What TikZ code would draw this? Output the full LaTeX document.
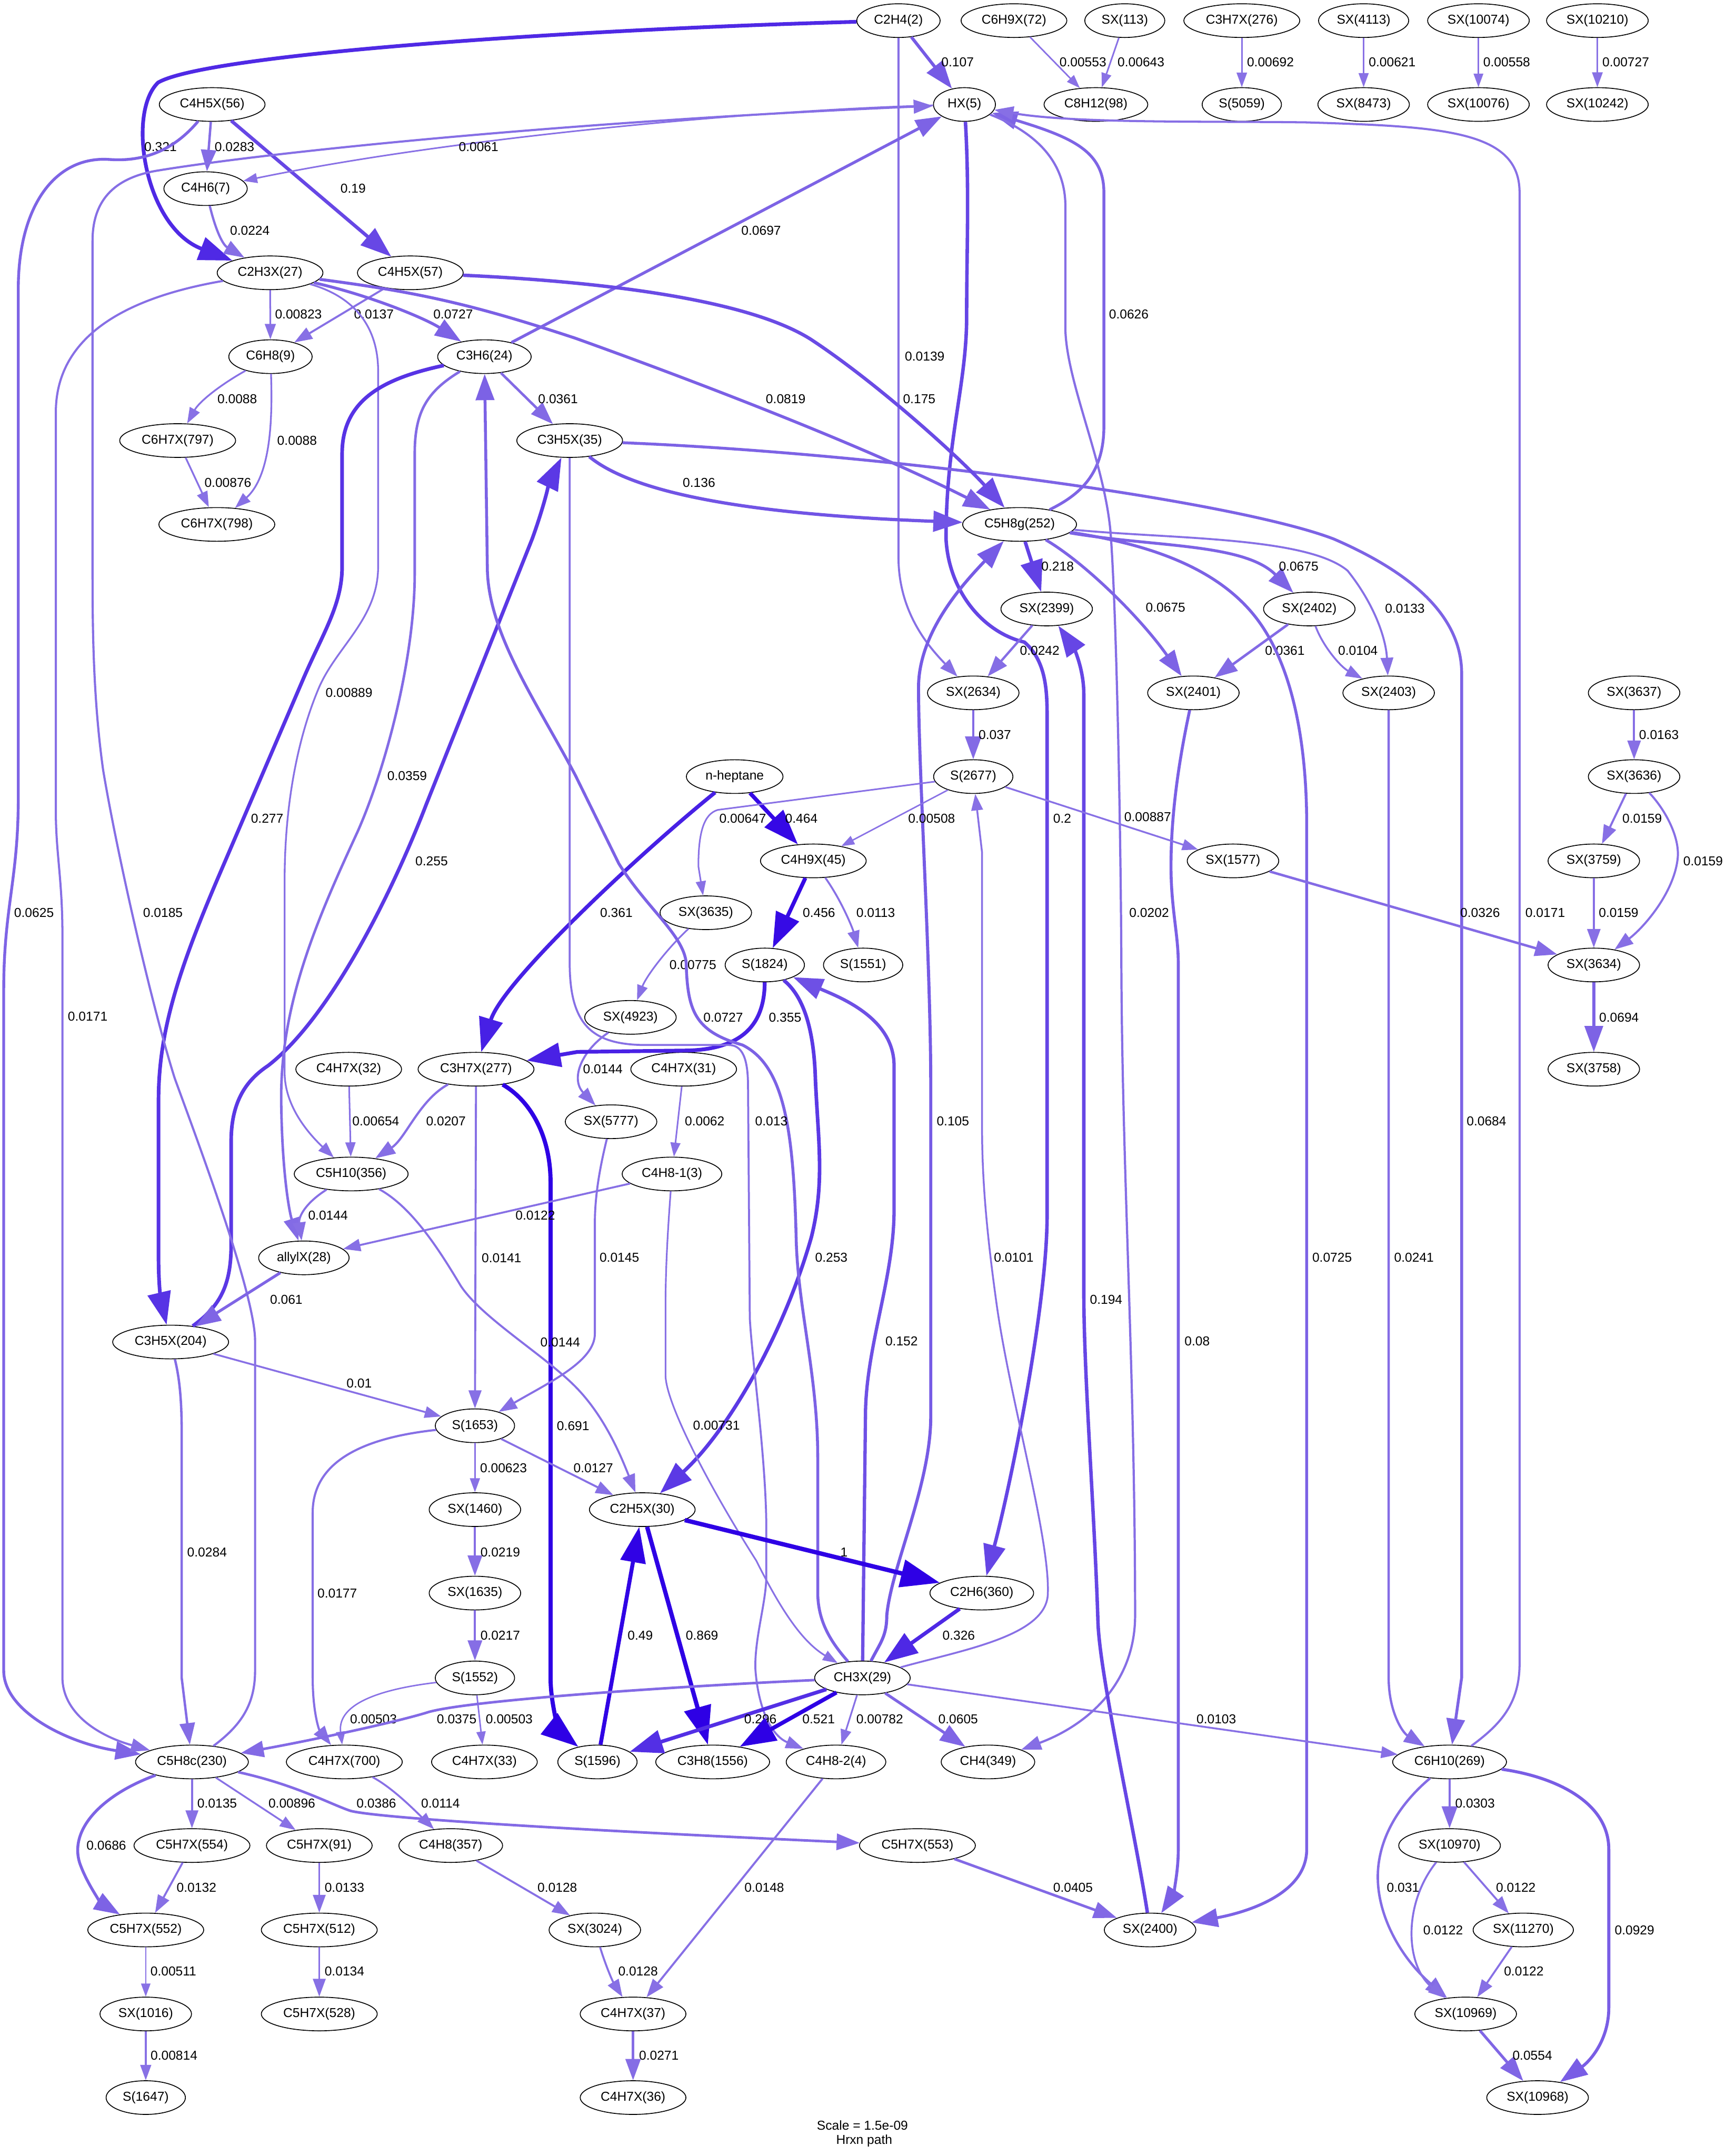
\documentclass[tikz,border=0pt]{standalone}
\usepackage{fontspec}
\setmainfont{Liberation Sans}
\usepackage{tikz}
\usetikzlibrary{arrows.meta}
\usetikzlibrary{positioning}
\usetikzlibrary{shapes.geometric}

\tikzset{
	sp/.style={ellipse, draw, line width=0.5pt, inner xsep=2.9pt, inner ysep=1pt, minimum height=0.686cm, font=\fontsize{7.5}{9}\selectfont},
	lbl/.style={anchor=west, inner sep=0pt, font=\fontsize{7.5}{9}\selectfont},
	fl/.code={%
		\pgfmathsetmacro\flsat{min(1,#1+0.5)}%
		\pgfmathsetmacro\flr{0.9*(1-0.8*\flsat)}%
		\pgfmathsetmacro\flg{0.9*(1-\flsat)}%
		\pgfmathsetmacro\flw{0.42*(2+1.7384*ln(200*#1)/2.302585)}%
		\definecolor{flcol}{rgb}{\flr,\flg,0.9}%
		\pgfkeysalso{draw=flcol, line width=\flw pt, -{Triangle[length=0pt 9,width=0pt 6.3]}}%
	}
}

\begin{document}
\begin{tikzpicture}[x=0.028cm, y=-0.028cm]
	\useasboundingbox (0,0) rectangle (1255,1568);
	% species
	\node[sp] (c2h4) at (653.4,15) {C2H4(2)};
	\node[sp] (c6h9x72) at (737.4,15) {C6H9X(72)};
	\node[sp] (sx113) at (818,15) {SX(113)};
	\node[sp] (c3h7x276) at (903.1,15) {C3H7X(276)};
	\node[sp] (sx4113) at (991.7,15) {SX(4113)};
	\node[sp] (sx10074) at (1075.2,15) {SX(10074)};
	\node[sp] (sx10210) at (1161.7,15) {SX(10210)};
	\node[sp] (c4h5x56) at (154.3,76) {C4H5X(56)};
	\node[sp] (hx) at (701.4,76) {HX(5)};
	\node[sp] (c8h12) at (797,76) {C8H12(98)};
	\node[sp] (s5059) at (903.1,76) {S(5059)};
	\node[sp] (sx8473) at (991.7,76) {SX(8473)};
	\node[sp] (sx10076) at (1075.2,76) {SX(10076)};
	\node[sp] (sx10242) at (1161.7,76) {SX(10242)};
	\node[sp] (c4h6) at (149.5,137.2) {C4H6(7)};
	\node[sp] (c2h3x) at (196.4,198.4) {C2H3X(27)};
	\node[sp] (c4h5x57) at (298.4,198.4) {C4H5X(57)};
	\node[sp] (c6h8) at (196.7,259.4) {C6H8(9)};
	\node[sp] (c3h6) at (352.3,259.4) {C3H6(24)};
	\node[sp] (c6h7x797) at (129.2,320.4) {C6H7X(797)};
	\node[sp] (c3h5x35) at (414.3,320.4) {C3H5X(35)};
	\node[sp] (c6h7x798) at (157.7,381.4) {C6H7X(798)};
	\node[sp] (c5h8g) at (741.5,381.4) {C5H8g(252)};
	\node[sp] (sx2399) at (761.2,442.9) {SX(2399)};
	\node[sp] (sx2402) at (952.2,442.9) {SX(2402)};
	\node[sp] (sx2634) at (707.8,503.9) {SX(2634)};
	\node[sp] (sx2401) at (867.9,503.9) {SX(2401)};
	\node[sp] (sx2403) at (1009.9,503.9) {SX(2403)};
	\node[sp] (sx3637) at (1188.4,503.9) {SX(3637)};
	\node[sp] (heptane) at (534.3,564.8) {n-heptane};
	\node[sp] (s2677) at (707.8,564.8) {S(2677)};
	\node[sp] (sx3636) at (1188.4,564.8) {SX(3636)};
	\node[sp] (c4h9x) at (591.5,626.1) {C4H9X(45)};
	\node[sp] (sx1577) at (896.7,626.1) {SX(1577)};
	\node[sp] (sx3759) at (1159.1,626.1) {SX(3759)};
	\node[sp] (sx3635) at (513.3,663.8) {SX(3635)};
	\node[sp] (s1824) at (556.2,701.8) {S(1824)};
	\node[sp] (s1551) at (627.7,701.8) {S(1551)};
	\node[sp] (sx3634) at (1159.1,701.8) {SX(3634)};
	\node[sp] (sx4923) at (458.5,739.9) {SX(4923)};
	\node[sp] (c4h7x32) at (253.6,777.6) {C4H7X(32)};
	\node[sp] (c3h7x277) at (346.2,777.6) {C3H7X(277)};
	\node[sp] (c4h7x31) at (497.2,777.6) {C4H7X(31)};
	\node[sp] (sx3758) at (1159.1,777.6) {SX(3758)};
	\node[sp] (sx5777) at (444.4,815.8) {SX(5777)};
	\node[sp] (c5h10) at (255.4,853.8) {C5H10(356)};
	\node[sp] (c4h81) at (488.7,853.8) {C4H8-1(3)};
	\node[sp] (allylx) at (221,914.8) {allylX(28)};
	\node[sp] (c3h5x204) at (124.1,976) {C3H5X(204)};
	\node[sp] (s1653) at (345.4,1036.9) {S(1653)};
	\node[sp] (sx1460) at (345.4,1097.9) {SX(1460)};
	\node[sp] (c2h5x) at (467.1,1097.9) {C2H5X(30)};
	\node[sp] (sx1635) at (345.4,1158.6) {SX(1635)};
	\node[sp] (c2h6) at (714,1158.6) {C2H6(360)};
	\node[sp] (s1552) at (345.4,1220.3) {S(1552)};
	\node[sp] (ch3x) at (627.2,1220.3) {CH3X(29)};
	\node[sp] (c5h8c) at (139.6,1281.4) {C5H8c(230)};
	\node[sp] (c4h7x700) at (250.4,1281.4) {C4H7X(700)};
	\node[sp] (c4h7x33) at (352.3,1281.4) {C4H7X(33)};
	\node[sp] (s1596) at (434.5,1281.4) {S(1596)};
	\node[sp] (c3h8) at (518.3,1281.4) {C3H8(1556)};
	\node[sp] (c4h82) at (608,1281.4) {C4H8-2(4)};
	\node[sp] (ch4) at (718.5,1281.4) {CH4(349)};
	\node[sp] (c6h10) at (1054.2,1281.4) {C6H10(269)};
	\node[sp] (c5h7x554) at (139.6,1342.2) {C5H7X(554)};
	\node[sp] (c5h7x91) at (232.2,1342.2) {C5H7X(91)};
	\node[sp] (c4h8) at (327.8,1342.2) {C4H8(357)};
	\node[sp] (c5h7x553) at (667.2,1342.2) {C5H7X(553)};
	\node[sp] (sx10970) at (1054.2,1342.2) {SX(10970)};
	\node[sp] (c5h7x552) at (106,1403.6) {C5H7X(552)};
	\node[sp] (c5h7x512) at (232.2,1403.6) {C5H7X(512)};
	\node[sp] (sx3024) at (432.6,1403.6) {SX(3024)};
	\node[sp] (sx2400) at (836.4,1403.6) {SX(2400)};
	\node[sp] (sx11270) at (1107.8,1403.6) {SX(11270)};
	\node[sp] (sx1016) at (106,1464.7) {SX(1016)};
	\node[sp] (c5h7x528) at (232.2,1464.7) {C5H7X(528)};
	\node[sp] (c4h7x37) at (460.4,1464.7) {C4H7X(37)};
	\node[sp] (sx10969) at (1065.9,1464.7) {SX(10969)};
	\node[sp] (s1647) at (106,1525.5) {S(1647)};
	\node[sp] (c4h7x36) at (460.4,1525.5) {C4H7X(36)};
	\node[sp] (sx10968) at (1118.2,1525.5) {SX(10968)};
	\node[inner sep=0pt, font=\fontsize{7.5}{9}\selectfont] (scale) at (627.2,1545.8) {Scale = 1.5e-09};
	\node[inner sep=0pt, font=\fontsize{7.5}{9}\selectfont] (hrxn) at (628.5,1556.8) {Hrxn path};
	% fluxes, top
	\draw[fl=0.321] (c2h4) .. controls (400,22) and (150,40) .. (115,60) .. controls (92,82) and (105,165) .. (c2h3x.north west) node[lbl] at (103.6,106.7) {0.321};
	\draw[fl=0.107] (c2h4) -- (hx) node[lbl] at (683.5,45.2) {0.107};
	\draw[fl=0.0139] (c2h4) -- (653.4,405) .. controls (653.4,445) and (675,470) .. (sx2634) node[lbl] at (657.4,259.2) {0.0139};
	\draw[fl=0.00553] (c6h9x72) -- (c8h12) node[lbl] at (770,45.2) {0.00553};
	\draw[fl=0.00643] (sx113) -- (c8h12) node[lbl] at (812.2,45.2) {0.00643};
	\draw[fl=0.00692] (c3h7x276) -- (s5059) node[lbl] at (906.3,45.2) {0.00692};
	\draw[fl=0.00621] (sx4113) -- (sx8473) node[lbl] at (994.9,45.2) {0.00621};
	\draw[fl=0.00558] (sx10074) -- (sx10076) node[lbl] at (1078.2,45.2) {0.00558};
	\draw[fl=0.00727] (sx10210) -- (sx10242) node[lbl] at (1164.7,45.2) {0.00727};
	\draw[fl=0.0283] (c4h5x56) -- (c4h6) node[lbl] at (155.3,106.7) {0.0283};
	\draw[fl=0.19] (c4h5x56) -- (c4h5x57) node[lbl] at (246.4,137) {0.19};
	\draw[fl=0.0625] (c4h5x56) .. controls (130,105) and (110,118) .. (80,116) .. controls (40,113) and (13.3,150) .. (13.3,210) -- (13.3,580) .. controls (13.3,640) and (2.7,660) .. (2.7,720) -- (2.7,1215) .. controls (2.7,1245) and (50,1268) .. (c5h8c) node[lbl] at (9.3,663.9) {0.0625};
	\draw[fl=0.0061] (hx) .. controls (550,80) and (330,100) .. (c4h6) node[lbl] at (333.1,106.7) {0.0061};
	\draw[fl=0.0224] (c4h6) .. controls (157,168) and (162,178) .. (c2h3x) node[lbl] at (166.5,167.5) {0.0224};
	\draw[fl=0.00823] (c2h3x) -- (c6h8) node[lbl] at (199.4,228.7) {0.00823};
	\draw[fl=0.0137] (c4h5x57) -- (c6h8) node[lbl] at (256.8,228.7) {0.0137};
	\draw[fl=0.0727] (c2h3x) .. controls (270,215) and (310,232) .. (c3h6) node[lbl] at (314.1,228.7) {0.0727};
	\draw[fl=0.0819] (c2h3x) .. controls (300,212) and (340,220) .. (418.5,246) .. controls (480,268) and (620,320) .. (c5h8g) node[lbl] at (555.9,290) {0.0819};
	\draw[fl=0.0171] (c2h3x) .. controls (100,215) and (40.6,240) .. (40.6,300) -- (40.6,590) .. controls (40.6,620) and (45.4,640) .. (45.4,680) -- (45.4,1220) .. controls (45.4,1245) and (70,1262) .. (c5h8c) node[lbl] at (48.6,739.3) {0.0171};
	\draw[fl=0.00889] (c2h3x) .. controls (255,215) and (275,235) .. (275,270) -- (275,412) .. controls (275,450) and (245,470) .. (232,500) .. controls (215,540) and (207,590) .. (207,640) -- (207,780) .. controls (207,805) and (225,825) .. (c5h10) node[lbl] at (236.2,503.6) {0.00889};
	\draw[fl=0.277] (c3h6) .. controls (280,275) and (248.8,290) .. (248.8,330) -- (248.8,412) .. controls (248.8,440) and (235,460) .. (220,495) -- (160,635) .. controls (130,705) and (115.3,750) .. (115.3,800) -- (115.3,915) .. controls (115.3,940) and (118,950) .. (c3h5x204) node[lbl] at (181.2,595.1) {0.277};
	\draw[fl=0.255] (c3h5x204) .. controls (160,950) and (168.1,935) .. (168.1,905) -- (168.1,830) .. controls (168.1,800) and (180,785) .. (195,775) .. controls (240,740) and (285,650) .. (310,585) -- (387,392) .. controls (395,370) and (400,350) .. (c3h5x35) node[lbl] at (300.8,626.1) {0.255};
	\draw[fl=0.0359] (c3h6) .. controls (310,285) and (301.6,300) .. (301.6,330) -- (301.6,417) .. controls (301.6,480) and (280,560) .. (260,605) .. controls (230,670) and (204,730) .. (204.5,800) .. controls (205,850) and (210,880) .. (allylx) node[lbl] at (280.8,564.4) {0.0359};
	\draw[fl=0.0361] (c3h6) -- (c3h5x35) node[lbl] at (390.5,290) {0.0361};
	\draw[fl=0.0697] (c3h6) -- (hx) node[lbl] at (538.1,167.5) {0.0697};
	\draw[fl=0.0185] (c5h8c) .. controls (175,1255) and (185.5,1240) .. (185.5,1215) -- (185.5,975) .. controls (185.5,940) and (140,820) .. (127,784) .. controls (110,730) and (85,620) .. (75,560) .. controls (68,510) and (67.3,460) .. (67.3,420) -- (67.3,175) .. controls (67.3,140) and (90,128) .. (115,124) .. controls (200,110) and (420,88) .. (hx) node[lbl] at (103.3,663.9) {0.0185};
	\draw[fl=0.0626] (c5h8g) .. controls (785,360) and (802.8,345) .. (802.8,310) -- (802.8,140) .. controls (802.8,110) and (780,100) .. (hx) node[lbl] at (805.5,228.7) {0.0626};
	\draw[fl=0.0171] (c6h10) .. controls (1090,1255) and (1105.1,1240) .. (1105.1,1210) -- (1105.1,140) .. controls (1105.1,95) and (1050,92) .. (950,89) .. controls (880,88) and (780,90) .. (hx) node[lbl] at (1108.6,663.9) {0.0171};
	\draw[fl=0.0202] (hx) .. controls (750,95) and (774.8,115) .. (774.8,150) -- (774.8,240) .. controls (776,280) and (805,340) .. (808,392) .. controls (812,450) and (815,600) .. (815.5,700) .. controls (816,850) and (825.5,1000) .. (825.5,1175) .. controls (825.5,1225) and (790,1255) .. (ch4) node[lbl] at (820.5,663.9) {0.0202};
	\draw[fl=0.2] (hx) .. controls (705,140) and (703,180) .. (703,230) .. controls (703,280) and (688,320) .. (688,392) .. controls (690,430) and (715,460) .. (745,467) .. controls (760,480) and (761.5,500) .. (761.5,520) -- (761.5,884) .. controls (761.5,950) and (735,1080) .. (c2h6) node[lbl] at (764.7,595.1) {0.2};
	% fluxes, C5H8g
	\draw[fl=0.0684] (c3h5x35) .. controls (650,330) and (900,365) .. (970,392) .. controls (1030,418) and (1063,450) .. (1063,490) -- (1063,1220) -- (c6h10) node[lbl] at (1065.6,815.5) {0.0684};
	\draw[fl=0.136] (c3h5x35) .. controls (460,358) and (540,374) .. (c5h8g) node[lbl] at (495.4,351.1) {0.136};
	\draw[fl=0.175] (c4h5x57) .. controls (420,204) and (540,215) .. (590,247) .. controls (640,280) and (700,335) .. (c5h8g) node[lbl] at (655.5,290) {0.175};
	\draw[fl=0.105] (ch3x) .. controls (640,1195) and (644.9,1190) .. (644.9,1175) .. controls (648,1140) and (676.9,1080) .. (676.9,1030) -- (676.9,790) .. controls (676.9,700) and (668,560) .. (668,500) .. controls (668,460) and (700,425) .. (c5h8g) node[lbl] at (680.1,815.5) {0.105};
	\draw[fl=0.218] (c5h8g) -- (sx2399) node[lbl] at (756.1,411.9) {0.218};
	\draw[fl=0.0242] (sx2399) -- (sx2634) node[lbl] at (740.9,473.1) {0.0242};
	\draw[fl=0.037] (sx2634) -- (s2677) node[lbl] at (710.8,534.4) {0.037};
	\draw[fl=0.0675] (c5h8g) .. controls (840,398) and (905,395) .. (sx2402) node[lbl] at (929,411.9) {0.0675};
	\draw[fl=0.0675] (c5h8g) .. controls (790,410) and (830,450) .. (sx2401) node[lbl] at (832.2,441.9) {0.0675};
	\draw[fl=0.0133] (c5h8g) .. controls (850,392) and (950,390) .. (980,415) .. controls (1000,440) and (1008,465) .. (sx2403) node[lbl] at (1006.6,442.4) {0.0133};
	\draw[fl=0.0361] (sx2402) -- (sx2401) node[lbl] at (919.1,473.1) {0.0361};
	\draw[fl=0.0104] (sx2402) .. controls (962,470) and (975,485) .. (sx2403) node[lbl] at (972.5,473.1) {0.0104};
	\draw[fl=0.0725] (c5h8g) .. controls (830,395) and (880,410) .. (910,445) .. controls (940,480) and (950.3,540) .. (950.3,600) -- (950.3,1345) .. controls (950.3,1380) and (900,1392) .. (sx2400) node[lbl] at (953.3,914.5) {0.0725};
	\draw[fl=0.08] (sx2401) .. controls (858,550) and (851.6,590) .. (851.6,630) .. controls (851.6,660) and (856.9,680) .. (856.9,700) -- (856.9,1345) .. controls (856.9,1365) and (852,1380) .. (sx2400) node[lbl] at (860.4,975.5) {0.08};
	\draw[fl=0.0241] (sx2403) -- (1009.9,1220) .. controls (1009.9,1245) and (1020,1260) .. (c6h10) node[lbl] at (1013.1,914.5) {0.0241};
	\draw[fl=0.194] (sx2400) .. controls (825,1330) and (800,1220) .. (798.5,1180) .. controls (796,1100) and (788.2,1000) .. (788.2,940) -- (788.2,505) .. controls (788.2,485) and (780,470) .. (sx2399) node[lbl] at (791.4,945) {0.194};
	% fluxes, middle
	\draw[fl=0.361] (heptane) .. controls (460,625) and (365,715) .. (c3h7x277) node[lbl] at (435.1,663.9) {0.361};
	\draw[fl=0.464] (heptane) -- (c4h9x) node[lbl] at (569.6,595.1) {0.464};
	\draw[fl=0.00647] (s2677) -- (522,589) .. controls (512,592) and (507.9,605) .. (507.9,630) -- (sx3635) node[lbl] at (522.6,595.1) {0.00647};
	\draw[fl=0.00508] (s2677) -- (c4h9x) node[lbl] at (660,595.1) {0.00508};
	\draw[fl=0.00887] (s2677) -- (sx1577) node[lbl] at (817,594) {0.00887};
	\draw[fl=0.456] (c4h9x) -- (s1824) node[lbl] at (582.4,663.9) {0.456};
	\draw[fl=0.0113] (c4h9x) .. controls (612,655) and (620,675) .. (s1551) node[lbl] at (622.1,663.9) {0.0113};
	\draw[fl=0.00775] (sx3635) .. controls (485,690) and (470,710) .. (sx4923) node[lbl] at (486.3,701.8) {0.00775};
	\draw[fl=0.0144] (sx4923) .. controls (422,765) and (415,785) .. (sx5777) node[lbl] at (423.3,777.6) {0.0144};
	\draw[fl=0.355] (s1824) .. controls (556,745) and (540,763) .. (500,764) -- (420,765) -- (c3h7x277) node[lbl] at (557.8,739.9) {0.355};
	\draw[fl=0.253] (s1824) .. controls (585,725) and (592,750) .. (593,785) .. controls (595,830) and (600,860) .. (590,900) .. controls (570,970) and (530,1040) .. (c2h5x) node[lbl] at (591.5,914.5) {0.253};
	\draw[fl=0.0727] (ch3x) .. controls (605,1195) and (594.7,1180) .. (594.7,1158) -- (594.7,1060) .. controls (594.7,1000) and (580,950) .. (579,900) .. controls (577,820) and (570,775) .. (540,760) .. controls (505,750) and (500,735) .. (499,700) .. controls (497,680) and (470,660) .. (450,628) -- (418.5,564) .. controls (390,510) and (354.4,460) .. (354.4,412) -- (c3h6) node[lbl] at (510.5,739.9) {0.0727};
	\draw[fl=0.013] (c3h5x35) -- (414.3,700) .. controls (414.3,745) and (430,760) .. (470,760) -- (530,760) .. controls (540,760) and (544,770) .. (544,790) -- (545.3,958.8) .. controls (547,990) and (557,1060) .. (557.3,1110) -- (557.3,1146) .. controls (557.3,1165) and (549,1190) .. (549.3,1213) .. controls (551,1240) and (560,1262) .. (c4h82) node[lbl] at (548.5,815.5) {0.013};
	\draw[fl=0.152] (ch3x) -- (629.4,1030) .. controls (629.4,980) and (650.2,930) .. (650.2,880) -- (650.2,775) .. controls (650.2,740) and (610,725) .. (s1824) node[lbl] at (642.7,975.5) {0.152};
	\draw[fl=0.0101] (ch3x) .. controls (700,1200) and (760,1190) .. (762,1160) .. controls (764,1120) and (735,1020) .. (725,950) .. controls (718,900) and (714.2,860) .. (714.2,820) -- (714.2,620) -- (s2677) node[lbl] at (722.2,914.5) {0.0101};
	\draw[fl=0.691] (c3h7x277) .. controls (385,800) and (400.4,825) .. (400.4,860) -- (400.4,1220) .. controls (400.4,1245) and (410,1262) .. (s1596) node[lbl] at (403.5,1037) {0.691};
	\draw[fl=0.0207] (c3h7x277) .. controls (305,800) and (295,828) .. (c5h10) node[lbl] at (309.1,815.5) {0.0207};
	\draw[fl=0.0141] (c3h7x277) -- (s1653) node[lbl] at (349.6,914.8) {0.0141};
	\draw[fl=0.00654] (c4h7x32) -- (c5h10) node[lbl] at (255.7,815.5) {0.00654};
	\draw[fl=0.0062] (c4h7x31) -- (c4h81) node[lbl] at (497.5,815.5) {0.0062};
	\draw[fl=0.0145] (sx5777) .. controls (436,850) and (432.6,870) .. (432.6,890) -- (432.6,970) .. controls (432.6,990) and (400,1005) .. (s1653) node[lbl] at (435.3,914.5) {0.0145};
	\draw[fl=0.0122] (c4h81) -- (allylx) node[lbl] at (374.2,883.8) {0.0122};
	\draw[fl=0.00731] (c4h81) .. controls (486,890) and (484,920) .. (484,950) -- (484,1000) .. controls (484,1020) and (515,1080) .. (550,1135) .. controls (570,1175) and (585,1195) .. (ch3x) node[lbl] at (503.4,1036.7) {0.00731};
	\draw[fl=0.0144] (c5h10) .. controls (222,875) and (217,885) .. (allylx) node[lbl] at (223.4,883.8) {0.0144};
	\draw[fl=0.0144] (c5h10) .. controls (300,878) and (320,910) .. (335,935) .. controls (350,958) and (395,985) .. (418,1008) .. controls (440,1030) and (452,1060) .. (c2h5x) node[lbl] at (392.3,976) {0.0144};
	\draw[fl=0.061] (allylx) -- (c3h5x204) node[lbl] at (195.4,945.2) {0.061};
	\draw[fl=0.01] (c3h5x204) -- (s1653) node[lbl] at (251.4,1006.2) {0.01};
	\draw[fl=0.0284] (c3h5x204) .. controls (130,1000) and (132.1,1015) .. (132.1,1040) -- (132.1,1220) -- (c5h8c) node[lbl] at (135.3,1128.8) {0.0284};
	\draw[fl=0.00623] (s1653) -- (sx1460) node[lbl] at (348.6,1067.5) {0.00623};
	\draw[fl=0.0219] (sx1460) -- (sx1635) node[lbl] at (348.6,1128.8) {0.0219};
	\draw[fl=0.0217] (sx1635) -- (s1552) node[lbl] at (348.6,1189.5) {0.0217};
	\draw[fl=0.0127] (s1653) -- (c2h5x) node[lbl] at (416.4,1067.5) {0.0127};
	\draw[fl=0.0177] (s1653) .. controls (270,1045) and (227.4,1060) .. (227.4,1100) -- (227.4,1220) .. controls (227.4,1245) and (232,1258) .. (c4h7x700) node[lbl] at (230.1,1158.6) {0.0177};
	\draw[fl=1] (c2h5x) -- (c2h6) node[lbl] at (609.6,1128.8) {1};
	\draw[fl=0.326] (c2h6) -- (ch3x) node[lbl] at (684.1,1189.5) {0.326};
	\draw[fl=0.49] (s1596) -- (c2h5x) node[lbl] at (455,1189.5) {0.49};
	\draw[fl=0.869] (c2h5x) -- (c3h8) node[lbl] at (497.2,1189.5) {0.869};
	% fluxes, bottom
	\draw[fl=0.00503] (s1552) .. controls (280,1228) and (245,1238) .. (c4h7x700) node[lbl] at (254.1,1250.3) {0.00503};
	\draw[fl=0.00503] (s1552) -- (c4h7x33) node[lbl] at (352.8,1250.3) {0.00503};
	\draw[fl=0.0375] (ch3x) .. controls (500,1226) and (345,1236) .. (312,1245) .. controls (290,1252) and (230,1265) .. (c5h8c) node[lbl] at (316.8,1250.3) {0.0375};
	\draw[fl=0.296] (ch3x) -- (s1596) node[lbl] at (539.9,1250.3) {0.296};
	\draw[fl=0.521] (ch3x) -- (c3h8) node[lbl] at (582.1,1250.3) {0.521};
	\draw[fl=0.00782] (ch3x) -- (c4h82) node[lbl] at (622.2,1250.3) {0.00782};
	\draw[fl=0.0605] (ch3x) -- (ch4) node[lbl] at (681.4,1250.3) {0.0605};
	\draw[fl=0.0103] (ch3x) -- (c6h10) node[lbl] at (869.5,1250.3) {0.0103};
	\draw[fl=0.0135] (c5h8c) -- (c5h7x554) node[lbl] at (142.8,1311.7) {0.0135};
	\draw[fl=0.00896] (c5h8c) -- (c5h7x91) node[lbl] at (194.6,1311.7) {0.00896};
	\draw[fl=0.0386] (c5h8c) .. controls (215,1298) and (240,1312) .. (255,1317) .. controls (275,1322) and (400,1330) .. (c5h7x553) node[lbl] at (258.4,1311.7) {0.0386};
	\draw[fl=0.0686] (c5h8c) .. controls (75,1305) and (50,1330) .. (58,1355) .. controls (64,1372) and (75,1385) .. (c5h7x552) node[lbl] at (61.9,1342.2) {0.0686};
	\draw[fl=0.0132] (c5h7x554) -- (c5h7x552) node[lbl] at (127.8,1372.8) {0.0132};
	\draw[fl=0.0133] (c5h7x91) -- (c5h7x512) node[lbl] at (235.4,1372.8) {0.0133};
	\draw[fl=0.00511] (c5h7x552) -- (sx1016) node[lbl] at (108.9,1433.6) {0.00511};
	\draw[fl=0.0134] (c5h7x512) -- (c5h7x528) node[lbl] at (235.4,1433.6) {0.0134};
	\draw[fl=0.00814] (sx1016) -- (s1647) node[lbl] at (108.9,1495) {0.00814};
	\draw[fl=0.0114] (c4h7x700) .. controls (285,1300) and (300,1315) .. (c4h8) node[lbl] at (305.6,1311.7) {0.0114};
	\draw[fl=0.0128] (c4h8) -- (sx3024) node[lbl] at (390.2,1372.8) {0.0128};
	\draw[fl=0.0128] (sx3024) .. controls (440,1428) and (445,1440) .. (c4h7x37) node[lbl] at (448.9,1433.6) {0.0128};
	\draw[fl=0.0148] (c4h82) -- (c4h7x37) node[lbl] at (540.7,1372.8) {0.0148};
	\draw[fl=0.0271] (c4h7x37) -- (c4h7x36) node[lbl] at (463.9,1495) {0.0271};
	\draw[fl=0.0405] (c5h7x553) -- (sx2400) node[lbl] at (765,1372.8) {0.0405};
	\draw[fl=0.0303] (c6h10) -- (sx10970) node[lbl] at (1057.4,1311.7) {0.0303};
	\draw[fl=0.031] (c6h10) .. controls (1020,1310) and (1002,1335) .. (1002,1365) .. controls (1002,1395) and (1020,1425) .. (sx10969) node[lbl] at (1007.7,1372.8) {0.031};
	\draw[fl=0.0122] (sx10970) .. controls (1020,1385) and (1022,1430) .. (sx10969) node[lbl] at (1034.4,1403.6) {0.0122};
	\draw[fl=0.0122] (sx10970) -- (sx11270) node[lbl] at (1087.3,1372.8) {0.0122};
	\draw[fl=0.0122] (sx11270) -- (sx10969) node[lbl] at (1093.1,1433.6) {0.0122};
	\draw[fl=0.0554] (sx10969) -- (sx10968) node[lbl] at (1099,1495) {0.0554};
	\draw[fl=0.0929] (c6h10) .. controls (1130,1292) and (1170,1310) .. (1170,1345) -- (1170,1460) .. controls (1170,1485) and (1155,1500) .. (sx10968) node[lbl] at (1173.2,1403.6) {0.0929};
	% fluxes, right column
	\draw[fl=0.0163] (sx3637) -- (sx3636) node[lbl] at (1191.3,534.4) {0.0163};
	\draw[fl=0.0159] (sx3636) -- (sx3759) node[lbl] at (1179.1,595.1) {0.0159};
	\draw[fl=0.0159] (sx3636) .. controls (1212,590) and (1222,610) .. (1220,625) .. controls (1217,650) and (1195,675) .. (sx3634) node[lbl] at (1223.4,626.1) {0.0159};
	\draw[fl=0.0159] (sx3759) -- (sx3634) node[lbl] at (1162,663.9) {0.0159};
	\draw[fl=0.0694] (sx3634) -- (sx3758) node[lbl] at (1162,739.9) {0.0694};
	\draw[fl=0.0326] (sx1577) -- (sx3634) node[lbl] at (1061.1,663.9) {0.0326};
	% C6H8 branch
	\draw[fl=0.0088] (c6h8) .. controls (160,280) and (145,292) .. (c6h7x797) node[lbl] at (157.5,290) {0.0088};
	\draw[fl=0.0088] (c6h8) .. controls (198,300) and (198,345) .. (c6h7x798) node[lbl] at (201,320.4) {0.0088};
	\draw[fl=0.00876] (c6h7x797) -- (c6h7x798) node[lbl] at (148.1,351.2) {0.00876};
\end{tikzpicture}
\end{document}
